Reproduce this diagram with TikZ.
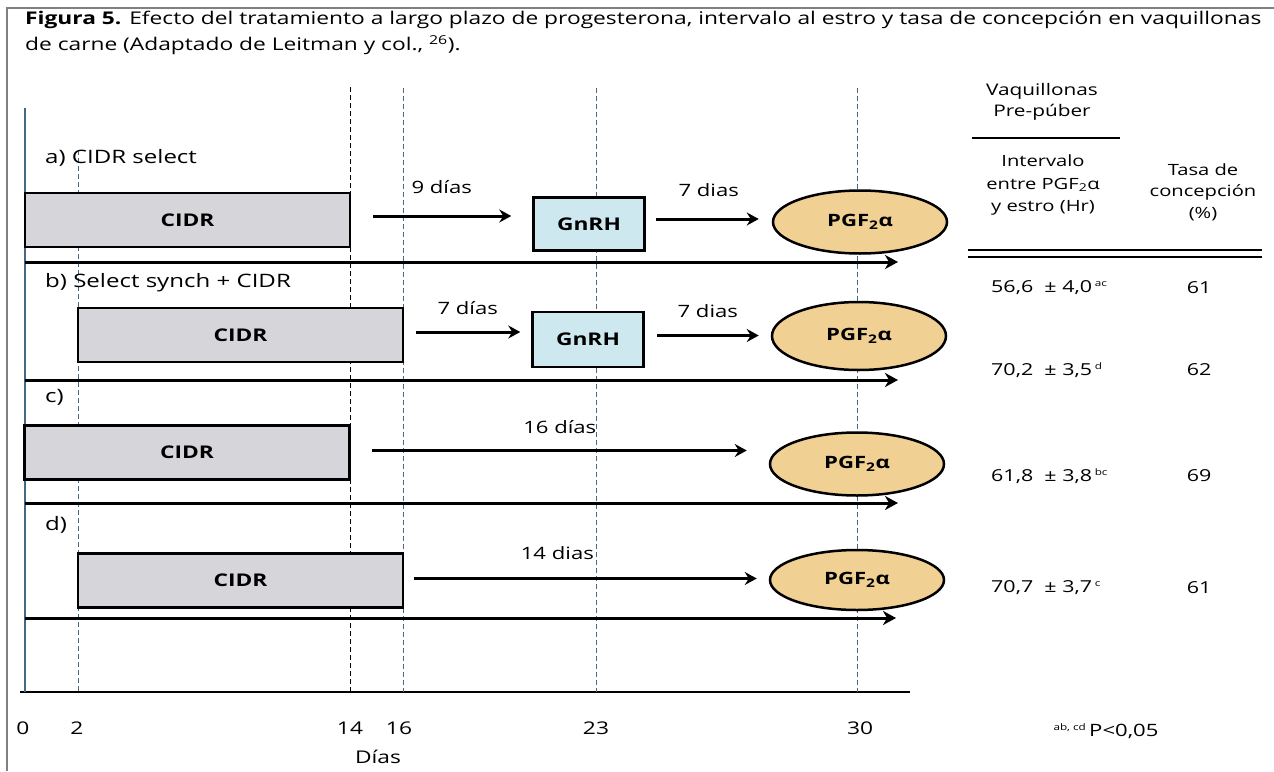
\documentclass[tikz,border=0pt]{standalone}
\usepackage{fontspec}
\setmainfont{Open Sans}[FakeStretch=1.3]
\usetikzlibrary{arrows.meta,shapes.geometric}
\definecolor{cidrgray}{RGB}{214,214,218}
\definecolor{gnrhblue}{RGB}{206,232,240}
\definecolor{pgforange}{RGB}{241,208,148}
\definecolor{daygrid}{RGB}{70,105,130}

\begin{document}
\begin{tikzpicture}[x=1pt,y=-1pt,font=\fontsize{17}{20}\selectfont]%
  \tikzstyle{cidrbox}=[rectangle,draw,line width=2.5pt,fill=cidrgray,minimum width=325,minimum height=54,inner sep=0,font=\fontsize{17.5}{20}\selectfont\bfseries]
  \tikzstyle{gnrhbox}=[rectangle,draw,line width=2.5pt,fill=gnrhblue,minimum width=111,minimum height=53,inner sep=0,font=\fontsize{17.5}{20}\selectfont\bfseries]
  \tikzstyle{pgfell}=[ellipse,draw,line width=2.5pt,fill=pgforange,minimum width=174,minimum height=63,inner sep=0,font=\fontsize{17}{20}\selectfont\bfseries]
  \tikzstyle{steparrow}=[line width=3pt,-{Stealth[length=12pt,width=13pt,inset=4pt]}]
  \tikzstyle{timeline}=[line width=3pt,-{Stealth[length=13pt,width=14pt,inset=4pt]}]
  \tikzstyle{daysline}=[line width=1pt,dash pattern=on 5pt off 3pt]
  \tikzstyle{rowlabel}=[anchor=west,inner sep=0,font=\fontsize{18.5}{20}\selectfont]
  \tikzstyle{daylabel}=[font=\fontsize{17}{19}\selectfont]
  \tikzstyle{tabtext}=[align=center,font=\fontsize{15.5}{21.5}\selectfont]
  \useasboundingbox (0,0) rectangle (1274,771);
  \fill[white] (0,0) rectangle (1274,771);
  % frame
  \draw[gray,line width=1.2pt] (7,771) -- (7,8) -- (1274,8);

  % title
  \node[anchor=north west,align=left,inner sep=0,font=\fontsize{17.5}{26}\selectfont] (title) at (25,11)
    {\textbf{Figura 5.} Efecto del tratamiento a largo plazo de progesterona, intervalo al estro y tasa de concepción en vaquillonas\\
     de carne (Adaptado de Leitman y col., \textsuperscript{26}).};

  % days axis and day lines
  \draw[line width=2pt] (20,692) -- (910,692);
  \draw[line width=1.5pt,daygrid] (25,108) -- (25,692);
  \foreach \x/\y/\c in {78/150/daygrid,350/87/black,403/88/daygrid,596/88/daygrid,857/88/daygrid}
    \draw[daysline,\c] (\x,\y) -- (\x,692);
  \foreach \x/\d in {23/0,77/2,350/14,399/16,596/23,860/30}
    \node[font=\fontsize{17.5}{19}\selectfont] at (\x,728) {\d};
  \node[font=\fontsize{17.5}{20}\selectfont] (dias) at (378,757) {Días};

  % a) CIDR select
  \node[rowlabel] (la) at (45,158) {a) CIDR select};
  \node[cidrbox] (ca) at (187.5,220) {CIDR};
  \node[gnrhbox] (ga) at (589,224) {GnRH};
  \node[pgfell] (pa) at (860,222) {PGF\textsubscript{2}α};
  \draw[steparrow,shorten <=22pt,shorten >=21pt] ([yshift=4pt]ca.east) -- ([yshift=4pt]ca.east -| ga.west)
    node[midway,above=18pt,daylabel] {9 días};
  \draw[steparrow,shorten <=10pt,shorten >=13pt] ([yshift=5pt]ga.east) -- ([yshift=5pt]ga.east -| pa.west)
    node[midway,above=18pt,daylabel] {7 dias};
  \coordinate (ta0) at (25,262);
  \coordinate (ta1) at (898,262);
  \draw[timeline] (ta0) -- (ta1);

  % b) Select synch + CIDR
  \node[rowlabel] (lb) at (45,283) {b) Select synch + CIDR};
  \node[cidrbox] (cb) at (240.5,335) {CIDR};
  \node[gnrhbox,minimum height=55] (gb) at (588,339.5) {GnRH};
  \node[pgfell,minimum height=68] (pb) at (859,336) {PGF\textsubscript{2}α};
  \draw[steparrow,shorten <=12pt,shorten >=11pt] ([yshift=3pt]cb.east) -- ([yshift=3pt]cb.east -| gb.west)
    node[midway,above=13pt,daylabel] {7 días};
  \draw[steparrow,shorten <=12pt,shorten >=12pt] ([yshift=4pt]gb.east) -- ([yshift=4pt]gb.east -| pb.west)
    node[midway,above=13pt,daylabel] {7 dias};
  \coordinate (tb0) at (25,380);
  \coordinate (tb1) at (898,380);
  \draw[timeline] (tb0) -- (tb1);

  % c)
  \node[rowlabel] (lc) at (45,397) {c)};
  \node[cidrbox] (cc) at (187,452.5) {CIDR};
  \node[pgfell] (pc) at (857,464) {PGF\textsubscript{2}α};
  \draw[steparrow,shorten <=21pt,shorten >=22pt] ([yshift=2pt]cc.east) -- ([yshift=2pt]cc.east -| pc.west)
    node[midway,above=12pt,daylabel] {16 días};
  \coordinate (tc0) at (25,503);
  \coordinate (tc1) at (898,503);
  \draw[timeline] (tc0) -- (tc1);

  % d)
  \node[rowlabel] (ld) at (45,525) {d)};
  \node[cidrbox] (cd) at (240.5,580.5) {CIDR};
  \node[pgfell,minimum height=60] (pd) at (857,580) {PGF\textsubscript{2}α};
  \draw[steparrow,shorten <=10pt,shorten >=12pt] ([yshift=2pt]cd.east) -- ([yshift=2pt]cd.east -| pd.west)
    node[pos=0.42,above=14pt,daylabel] {14 dias};
  \coordinate (td0) at (25,618);
  \coordinate (td1) at (896,618);
  \draw[timeline] (td0) -- (td1);

  % table
  \node[tabtext,font=\fontsize{16}{21}\selectfont] (vaq) at (1042,102) {Vaquillonas\\Pre-púber};
  \draw[line width=2pt] (972,138) -- (1120,138);
  \node[tabtext,font=\fontsize{15.5}{22.5}\selectfont] (interv) at (1043,185) {Intervalo\\entre PGF\textsubscript{2}α\\y estro (Hr)};
  \node[tabtext] (tasa) at (1203,192) {Tasa de\\concepción\\(\%)};
  \draw[line width=2pt] (968,250) -- (1262,250);
  \draw[line width=2pt] (968,257) -- (1262,257);
  \foreach \y/\m/\s/\sup/\t in {288/{56,6}/{4,0}/ac/61,370/{70,2}/{3,5}/d/62,476/{61,8}/{3,8}/bc/69,588/{70,7}/{3,7}/c/61} {
    \node[anchor=west,inner sep=0,font=\fontsize{16.5}{18}\selectfont] at (991,\y) {\m\ \ ± \s\,\textsuperscript{\fontsize{9}{10}\selectfont\sup}};
    \node[font=\fontsize{16.5}{18}\selectfont] at (1199,\y) {\t};
  }
  \node[font=\fontsize{17}{20}\selectfont] (pval) at (1106,731) {\textsuperscript{\fontsize{9}{10}\selectfont ab, cd}\,P<0,05};
\end{tikzpicture}
\end{document}
